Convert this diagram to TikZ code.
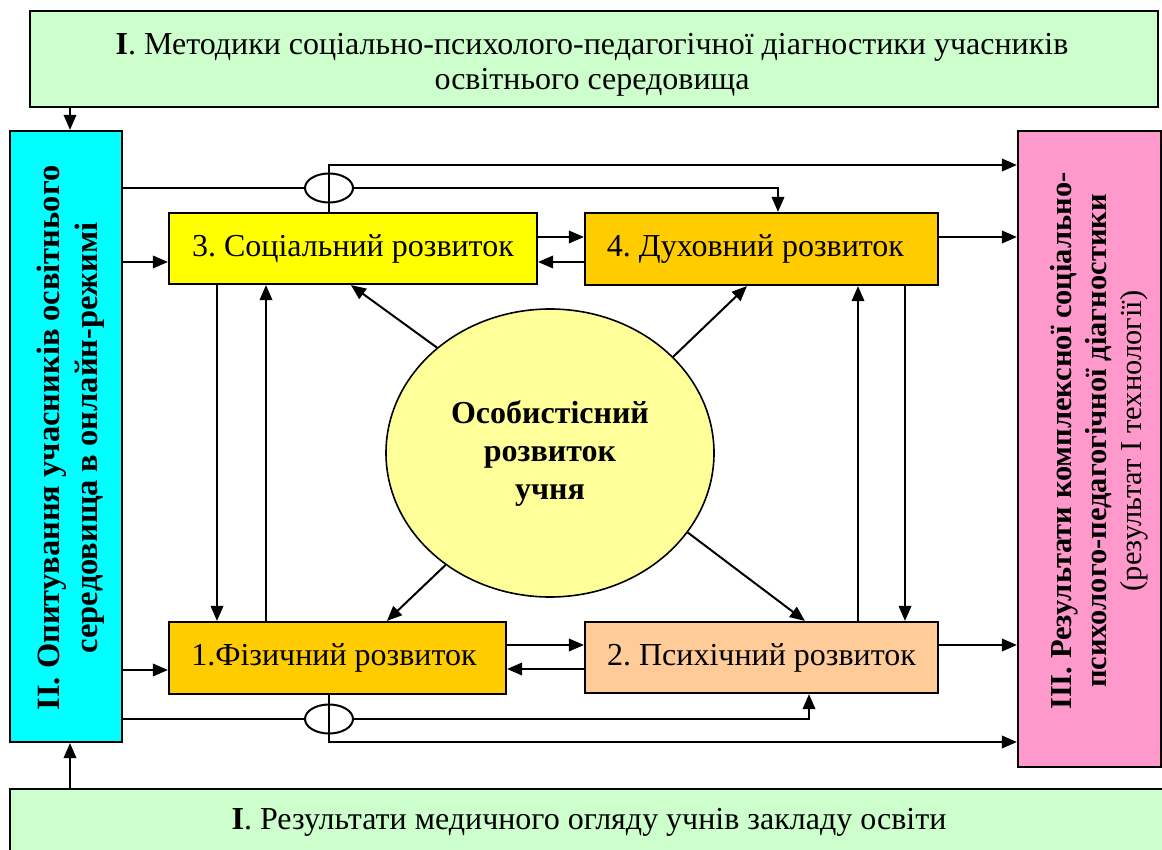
\documentclass[tikz,border=0pt]{standalone}
\usepackage{fontspec}
\setmainfont{Liberation Serif}
\usetikzlibrary{arrows.meta,shapes.geometric}
\definecolor{lgreen}{HTML}{CCFFCC}
\definecolor{cyanb}{HTML}{00FFFF}
\definecolor{pinkb}{HTML}{FF99CC}
\definecolor{yelb}{HTML}{FFFF00}
\definecolor{goldb}{HTML}{FFCC00}
\definecolor{peachb}{HTML}{FFCC99}
\definecolor{ellyel}{HTML}{FFFF99}
\frenchspacing
\begin{document}
\begin{tikzpicture}[x=1pt,y=-1pt,
  box/.style={draw,line width=2.2pt,rectangle,inner sep=0pt,font=\fontsize{32}{38}\selectfont},
  arr/.style={line width=2pt,-{Triangle[length=15pt,width=12.5pt]}},
  ln/.style={line width=2pt},
  jump/.style={ellipse,draw,line width=2pt,minimum width=48pt,minimum height=29pt,inner sep=0pt}
]
\useasboundingbox (0,0) rectangle (1162,850);
\clip (0,0) rectangle (1162,850);
\fill[white] (0,0) rectangle (1162,850);

\node[box,fill=lgreen,minimum width=1128pt,minimum height=96pt] (top) at (594,59) {};
\node[align=center,font=\fontsize{32}{35}\selectfont] (toptxt) at (592,65) {\textbf{І}. Методики соціально-психолого-педагогічної діагностики учасників\\освітнього середовища};

\node[box,fill=cyanb,minimum width=112pt,minimum height=611pt] (left) at (66,436.5) {};
\node[rotate=90,align=center,font=\bfseries\fontsize{32.5}{38}\selectfont] (lefttxt) at (71,438) {ІІ. Опитування учасників освітнього\\середовища в онлайн-режимі};

\node[box,fill=pinkb,minimum width=143pt,minimum height=636pt] (right) at (1089.5,449) {};
\node[rotate=90,align=center,font=\fontsize{30.5}{35}\selectfont] (righttxt) at (1099,441) {\textbf{ІІІ. Результати комплексної соціально-}\\\textbf{психолого-педагогічної діагностики}\\(результат І технології)};

\node[box,fill=lgreen,minimum width=1158pt,minimum height=66pt,font=\fontsize{32}{35}\selectfont] (bot) at (589,822) {\textbf{І}. Результати медичного огляду учнів закладу освіти};

\node[box,fill=yelb,minimum width=368pt,minimum height=71pt] (b3) at (353,248.5) {3. Соціальний розвиток};
\node[box,fill=goldb,minimum width=353pt,minimum height=72pt] (b4) at (761.5,249) {\hspace*{-12pt}4. Духовний розвиток};
\node[box,fill=goldb,minimum width=337pt,minimum height=72pt] (b1) at (337.5,658) {\hspace*{-7pt}1.Фізичний розвиток};
\node[box,fill=peachb,minimum width=353pt,minimum height=71pt] (b2) at (761.5,657.5) {2. Психічний розвиток};

\node[ellipse,draw,line width=1.6pt,fill=ellyel,minimum width=328pt,minimum height=288pt,inner sep=0pt,align=center,font=\bfseries\fontsize{32}{38}\selectfont] (ell) at (550,453) {Особистісний\\розвиток\\учня};

\node[jump] (j1) at (329,188) {};
\node[jump] (j2) at (329,719) {};

% vertical arrows between I boxes and II box
\draw[arr] (top.south -| 70,0) -- (left.north -| 70,0);
\draw[arr] (bot.north -| 70,0) -- (left.south -| 70,0);

% top routing
\draw[arr] (j1 |- b3.north) -- (329,165) -- (right.west |- 0,165);
\draw[ln] (left.east |- j1) -- (j1.west);
\draw[arr] (j1.east) -- (778,188) -- (b4.north -| 778,0);

\draw[arr] (left.east |- 0,262) -- (b3.west |- 0,262);
\draw[arr] (b3.east |- 0,237) -- (b4.west |- 0,237);
\draw[arr] (b4.west |- 0,262) -- (b3.east |- 0,262);
\draw[arr] (b4.east |- 0,237) -- (right.west |- 0,237);

% verticals between rows
\draw[arr] (b3.south -| 217,0) -- (b1.north -| 217,0);
\draw[arr] (b1.north -| 266,0) -- (b3.south -| 266,0);
\draw[arr] (b2.north -| 858,0) -- (b4.south -| 858,0);
\draw[arr] (b4.south -| 905,0) -- (b2.north -| 905,0);

% from ellipse
\draw[arr] (ell.137.8) -- ([xshift=183pt]b3.south west);
\draw[arr] (ell.38.6) -- ([xshift=163pt]b4.south west);
\draw[arr] (ell.227) -- ([xshift=219pt]b1.north west);
\draw[arr] (ell.330.7) -- ([xshift=221pt]b2.north west);

% bottom routing
\draw[arr] (left.east |- 0,670) -- (b1.west |- 0,670);
\draw[arr] (b1.east |- 0,645) -- (b2.west |- 0,645);
\draw[arr] (b2.west |- 0,669) -- (b1.east |- 0,669);
\draw[arr] (b2.east |- 0,645) -- (right.west |- 0,645);
\draw[ln] (left.east |- j2) -- (j2.west);
\draw[arr] (j2.east) -- (809,719) -- (b2.south -| 809,0);
\draw[arr] (j2 |- b1.south) -- (329,742) -- (right.west |- 0,742);
\end{tikzpicture}
\end{document}
